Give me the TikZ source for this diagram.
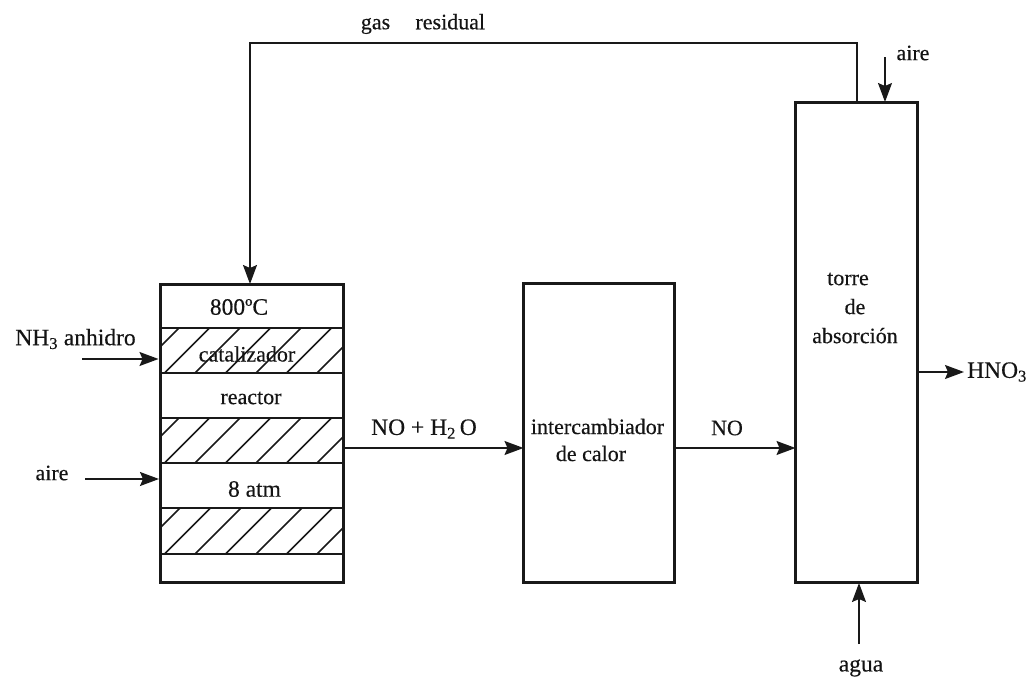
\documentclass[tikz,border=0pt]{standalone}
\usepackage{fontspec}
\setmainfont[RawFeature={embolden=0.35}]{Liberation Serif}
\usetikzlibrary{arrows.meta}
\tikzset{
  x=1pt,y=-1pt,
  unit/.style={draw=black!90,line width=3pt,inner sep=0pt,outer sep=0pt},
  sep/.style={draw=black!90,line width=1.5pt},
  hatchline/.style={draw=black!90,line width=1.6pt},
  pipe/.style={draw=black!90,line width=1.5pt},
  flow/.style={pipe,-{Stealth[length=19pt,width=14pt,inset=3pt]}},
  lab/.style={font=\fontsize{22}{26}\selectfont,inner sep=0pt,text=black!92,align=center},
  labwide/.style={lab,font=\fontsize{23.5}{27}\selectfont},
}
\newcommand{\hatchband}[2]{%
  \begin{scope}
    \clip (161,#1) rectangle (342,#2);
    \foreach \s in {0,...,7}{
      \draw[hatchline] ({134+30.5*\s},#2) -- ({134+30.5*\s+#2-#1},#1);
    }
  \end{scope}}
\begin{document}
\begin{tikzpicture}
\useasboundingbox (0,0) rectangle (1029,680);
\hatchband{328}{373}
\hatchband{418}{463}
\hatchband{508}{554}
\node[unit,minimum width=183pt,minimum height=298pt] (reactor) at (251.5,433.5) {};
\node[unit,minimum width=151pt,minimum height=299pt] (inter) at (599,433) {};
\node[unit,minimum width=122pt,minimum height=480pt] (torre) at (856.5,342) {};
\coordinate (l1a) at (reactor.west |- 0,328); \coordinate (l1b) at (reactor.east |- 0,328);
\coordinate (l2a) at (reactor.west |- 0,373); \coordinate (l2b) at (reactor.east |- 0,373);
\coordinate (l3a) at (reactor.west |- 0,418); \coordinate (l3b) at (reactor.east |- 0,418);
\coordinate (l4a) at (reactor.west |- 0,463); \coordinate (l4b) at (reactor.east |- 0,463);
\coordinate (l5a) at (reactor.west |- 0,508); \coordinate (l5b) at (reactor.east |- 0,508);
\coordinate (l6a) at (reactor.west |- 0,554); \coordinate (l6b) at (reactor.east |- 0,554);
\foreach \k in {1,...,6}{\draw[sep] (l\k a) -- (l\k b);}
\node[labwide] (t800) at (239,307) {800ºC};
\node[lab] (tcat) at (247,354) {catalizador};
\node[lab] (treac) at (251,398) {reactor};
\node[labwide] (t8) at (254.5,489) {8 atm};
\node[lab] (tinter) at (597.5,440) {intercambiador\\[1pt]de calor\hspace*{13pt}};
\node[lab] (ttorre) at (855,308) {torre\hspace*{14pt}\\[3pt]de\hspace*{14pt}\\[3pt]absorción};
\node[lab] (tgas) at (423,24) {gas\hspace{1.15em}residual};
\node[labwide] (tnh) at (75.5,339) {NH\textsubscript{3} anhidro};
\node[lab] (taire1) at (52,473) {aire};
\node[labwide] (tno1) at (424,429) {NO + H\textsubscript{2}\,O};
\node[lab] (tno2) at (727,428) {NO};
\node[lab] (taire2) at (913,53) {aire};
\node[labwide,anchor=west] (thno) at (967,372) {HNO\textsubscript{3}};
\node[labwide] (tagua) at (861,668) {agua};
\coordinate (gasout) at (857,102);
\coordinate (gasin) at (250,284);
\coordinate (g1) at (857,43);
\coordinate (g2) at (250,43);
\coordinate (nhs) at (82,359);
\coordinate (nhe) at (158.5,359);
\coordinate (ais) at (85,479);
\coordinate (aie) at (159,479);
\coordinate (a2s) at (885,57);
\coordinate (a2e) at (885,102);
\coordinate (ags) at (859,644);
\coordinate (age) at (859,583);
\coordinate (hs) at (917,372);
\coordinate (he) at (964,372);
\draw[flow] (gasout) -- (g1) -- (g2) -- (gasin);
\draw[flow] (nhs) -- (nhe);
\draw[flow] (ais) -- (aie);
\draw[flow] (reactor.east |- 0,448) -- (inter.west |- 0,448);
\draw[flow] (inter.east |- 0,448) -- (torre.west |- 0,448);
\draw[flow] (hs) -- (he);
\draw[flow] (a2s) -- (a2e);
\draw[flow] (ags) -- (age);
\end{tikzpicture}
\end{document}
